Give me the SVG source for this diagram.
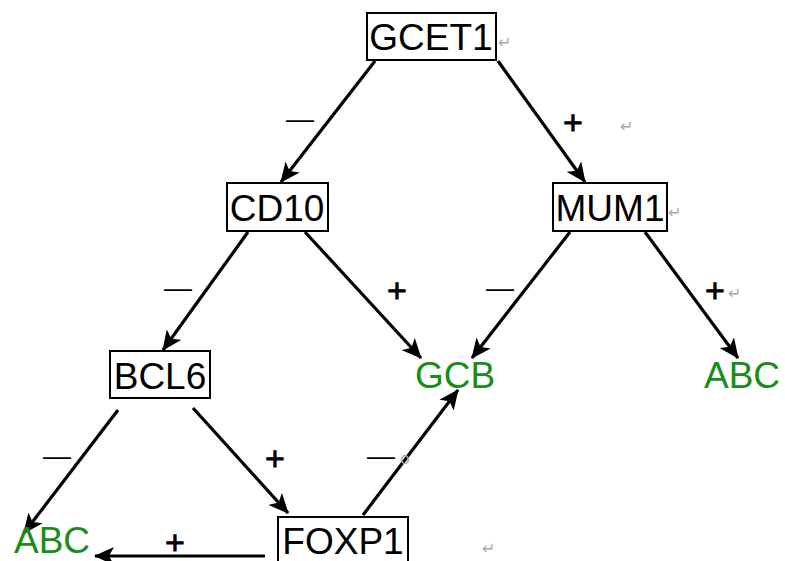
<svg xmlns="http://www.w3.org/2000/svg" width="785" height="561" viewBox="0 0 785 561">
<defs>
<marker id="ah" markerUnits="userSpaceOnUse" markerWidth="22" markerHeight="18" refX="19" refY="9" orient="auto">
<path d="M0,0 L20,9 L0,18 L5,9 z" fill="#000"/>
</marker>
<style>
.box{fill:#fff;stroke:#000;stroke-width:2}
.nt{font-family:"Liberation Sans",Arial,sans-serif;font-size:37px;fill:#000;text-anchor:middle}
.gt{font-family:"Liberation Sans",Arial,sans-serif;font-size:37px;fill:#1a8c1a;text-anchor:middle}
.lb{font-family:"Liberation Sans",Arial,sans-serif;font-size:28px;fill:#000;text-anchor:middle}
.pl{font-family:"Liberation Sans",Arial,sans-serif;font-size:34px;fill:#000;text-anchor:middle;stroke:#000;stroke-width:0.8}
.pm{font-family:"DejaVu Sans",sans-serif;font-size:16px;fill:#aaa}
.cn{stroke:#000;stroke-width:3.2;fill:none;marker-end:url(#ah)}
</style>
</defs>
<rect width="785" height="561" fill="#fff"/>
<g id="connectors">
<line class="cn" x1="375" y1="61" x2="281" y2="182"/>
<line class="cn" x1="498" y1="61" x2="585" y2="182"/>
<line class="cn" x1="248" y1="232" x2="163" y2="350"/>
<line class="cn" x1="305" y1="232" x2="421" y2="358"/>
<line class="cn" x1="570" y1="232" x2="472" y2="358"/>
<line class="cn" x1="645" y1="232" x2="738" y2="358"/>
<line class="cn" x1="118" y1="410" x2="24" y2="533"/>
<line class="cn" x1="193" y1="408" x2="288" y2="513"/>
<line class="cn" x1="363" y1="515" x2="458" y2="390"/>
<line class="cn" x1="265" y1="556" x2="95" y2="556"/>
</g>
<g id="labels">
<text class="lb" x="300" y="128">—</text>
<text class="pl" x="573" y="134">+</text>
<text class="pm" x="620" y="132">↵</text>
<text class="lb" x="178" y="297">—</text>
<text class="pl" x="397" y="302">+</text>
<text class="lb" x="500" y="297">—</text>
<text class="pl" x="715" y="302">+</text>
<text class="pm" x="728" y="299">↵</text>
<text class="lb" x="57" y="465">—</text>
<text class="pl" x="275" y="470">+</text>
<text class="lb" x="381" y="465">—</text>
<text class="pm" x="400" y="464" font-size="10">o</text>
<text class="pl" x="175" y="554">+</text>
<text class="pm" x="482" y="554">↵</text>
</g>
<g id="GCET1">
<rect class="box" x="367" y="13" width="129" height="47"/>
<text class="nt" x="431" y="50">GCET1</text>
<text class="pm" x="498" y="48">↵</text>
</g>
<g id="CD10">
<rect class="box" x="227" y="183" width="101" height="48"/>
<text class="nt" x="277" y="221">CD10</text>
</g>
<g id="MUM1">
<rect class="box" x="553" y="183" width="114" height="48"/>
<text class="nt" x="610" y="221">MUM1</text>
<text class="pm" x="668" y="218">↵</text>
</g>
<g id="BCL6">
<rect class="box" x="110" y="351" width="100" height="47"/>
<text class="nt" x="160" y="389">BCL6</text>
</g>
<g id="FOXP1">
<rect class="box" x="278" y="517" width="130" height="50"/>
<text class="nt" x="343" y="554">FOXP1</text>
</g>
<g id="GCB">
<text class="gt" x="455" y="388">GCB</text>
</g>
<g id="ABC_right">
<text class="gt" x="742" y="388">ABC</text>
</g>
<g id="ABC_left">
<text class="gt" x="52" y="553">ABC</text>
</g>
</svg>
